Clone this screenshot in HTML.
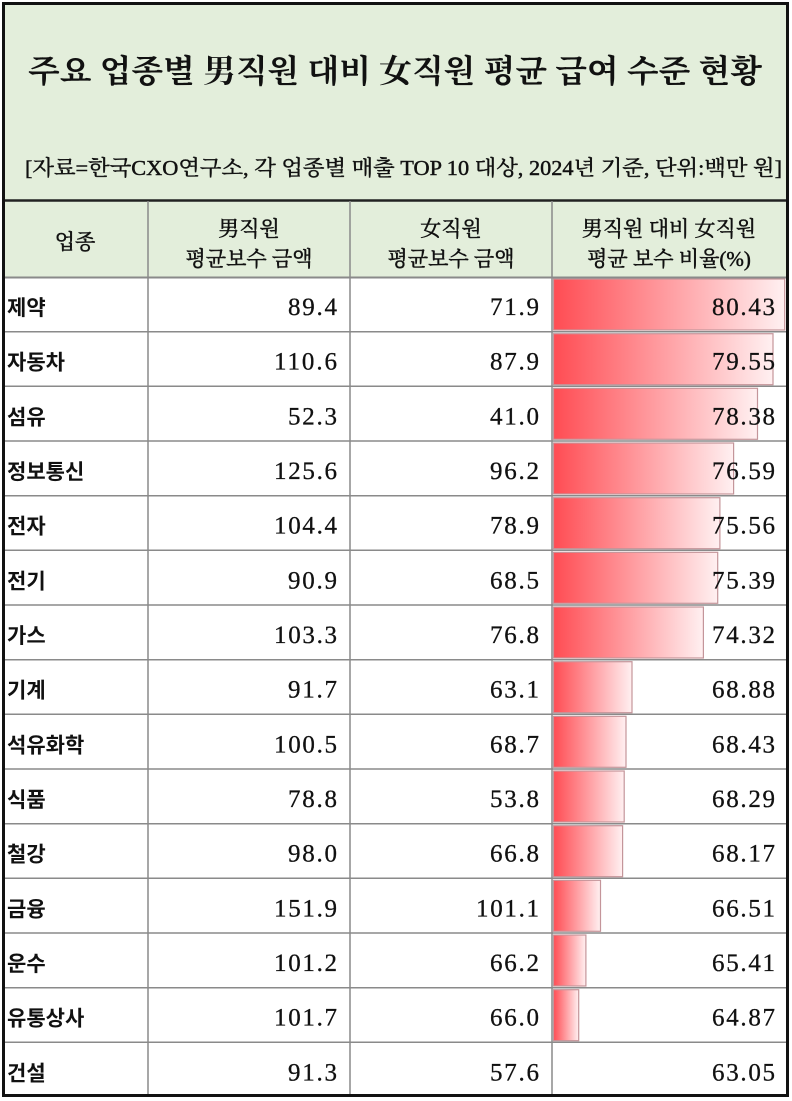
<!DOCTYPE html>
<html><head><meta charset="utf-8"><style>
html,body{margin:0;padding:0;background:#fff;}
svg{display:block;}
.t{font-family:"Liberation Serif","Noto Serif CJK SC","Noto Serif CJK KR",serif;}
.s{font-family:"Liberation Sans","Noto Sans CJK KR",sans-serif;}
</style></head><body>
<svg width="792" height="1101" viewBox="0 0 792 1101" xmlns="http://www.w3.org/2000/svg">
<defs>
<linearGradient id="g" x1="0" x2="1" y1="0" y2="0">
<stop offset="0" stop-color="#FF4C53"/>
<stop offset="1" stop-color="#FFF0F1"/>
</linearGradient>
</defs>
<rect x="0" y="0" width="792" height="1101" fill="#fff"/>
<rect x="3" y="3" width="785" height="274" fill="#E3EEDB"/>
<text class="t" x="28" y="82" font-size="32" font-weight="bold" textLength="734" lengthAdjust="spacingAndGlyphs" fill="#111">주요 업종별 男직원 대비 女직원 평균 급여 수준 현황</text>
<text class="t" x="25" y="175" font-size="21" textLength="757" lengthAdjust="spacingAndGlyphs" fill="#111" stroke="#111" stroke-width="0.45">[자료=한국CXO연구소, 각 업종별 매출 TOP 10 대상, 2024년 기준, 단위:백만 원]</text>
<line x1="3" y1="200.5" x2="788" y2="200.5" stroke="#222" stroke-width="2.5"/>
<g class="t" font-size="21" fill="#111" stroke="#111" stroke-width="0.5" text-anchor="middle">
<text x="75" y="249">업종</text>
<text x="249" y="236">男직원</text>
<text x="249" y="266">평균보수 금액</text>
<text x="451" y="236">女직원</text>
<text x="451" y="266">평균보수 금액</text>
<text x="669" y="236">男직원 대비 女직원</text>
<text x="669" y="266">평균 보수 비율(%)</text>
</g>
<g id="bars" stroke="#C4959A" stroke-width="1.2" fill="url(#g)">
<rect x="553.5" y="279" width="231.2" height="51" />
<rect x="553.5" y="333.7" width="219.5" height="51" />
<rect x="553.5" y="388.3" width="204" height="51" />
<rect x="553.5" y="443" width="180.1" height="51" />
<rect x="553.5" y="497.7" width="166.4" height="51" />
<rect x="553.5" y="552.3" width="164.2" height="51" />
<rect x="553.5" y="607" width="149.9" height="51" />
<rect x="553.5" y="661.7" width="78.5" height="51" />
<rect x="553.5" y="716.3" width="72.5" height="51" />
<rect x="553.5" y="771" width="70.7" height="51" />
<rect x="553.5" y="825.7" width="69.1" height="51" />
<rect x="553.5" y="880.3" width="47" height="51" />
<rect x="553.5" y="935" width="32.4" height="51" />
<rect x="553.5" y="989.7" width="25.2" height="51" />
</g>
<g stroke="#8a8a8a" stroke-width="1.5">
<line x1="3" y1="277.5" x2="788" y2="277.5" stroke-width="2"/>
<line x1="3" y1="331.7" x2="788" y2="331.7"/>
<line x1="3" y1="386.3" x2="788" y2="386.3"/>
<line x1="3" y1="441" x2="788" y2="441"/>
<line x1="3" y1="495.7" x2="788" y2="495.7"/>
<line x1="3" y1="550.3" x2="788" y2="550.3"/>
<line x1="3" y1="605" x2="788" y2="605"/>
<line x1="3" y1="659.7" x2="788" y2="659.7"/>
<line x1="3" y1="714.3" x2="788" y2="714.3"/>
<line x1="3" y1="769" x2="788" y2="769"/>
<line x1="3" y1="823.7" x2="788" y2="823.7"/>
<line x1="3" y1="878.3" x2="788" y2="878.3"/>
<line x1="3" y1="933" x2="788" y2="933"/>
<line x1="3" y1="987.7" x2="788" y2="987.7"/>
<line x1="3" y1="1042.3" x2="788" y2="1042.3"/>
<line x1="148" y1="201" x2="148" y2="1096"/>
<line x1="350" y1="201" x2="350" y2="1096"/>
<line x1="552" y1="201" x2="552" y2="1096"/>
</g>
<g class="s" font-size="21" font-weight="bold" fill="#111">
<text x="7" y="315">제약</text>
<text x="7" y="369.7">자동차</text>
<text x="7" y="424.3">섬유</text>
<text x="7" y="479">정보통신</text>
<text x="7" y="533.7">전자</text>
<text x="7" y="588.3">전기</text>
<text x="7" y="643">가스</text>
<text x="7" y="697.7">기계</text>
<text x="7" y="752.3">석유화학</text>
<text x="7" y="807">식품</text>
<text x="7" y="861.7">철강</text>
<text x="7" y="916.3">금융</text>
<text x="7" y="971">운수</text>
<text x="7" y="1025.7">유통상사</text>
<text x="7" y="1080.3">건설</text>
</g>
<g class="t" font-size="25" fill="#111" stroke="#111" stroke-width="0.3" text-anchor="end">
<text x="337" y="315" textLength="49">89.4</text>
<text x="337" y="369.7" textLength="63">110.6</text>
<text x="337" y="424.3" textLength="49">52.3</text>
<text x="337" y="479" textLength="63">125.6</text>
<text x="337" y="533.7" textLength="63">104.4</text>
<text x="337" y="588.3" textLength="49">90.9</text>
<text x="337" y="643" textLength="63">103.3</text>
<text x="337" y="697.7" textLength="49">91.7</text>
<text x="337" y="752.3" textLength="63">100.5</text>
<text x="337" y="807" textLength="49">78.8</text>
<text x="337" y="861.7" textLength="49">98.0</text>
<text x="337" y="916.3" textLength="63">151.9</text>
<text x="337" y="971" textLength="63">101.2</text>
<text x="337" y="1025.7" textLength="63">101.7</text>
<text x="337" y="1080.3" textLength="49">91.3</text>

<text x="539" y="315" textLength="49">71.9</text>
<text x="539" y="369.7" textLength="49">87.9</text>
<text x="539" y="424.3" textLength="49">41.0</text>
<text x="539" y="479" textLength="49">96.2</text>
<text x="539" y="533.7" textLength="49">78.9</text>
<text x="539" y="588.3" textLength="49">68.5</text>
<text x="539" y="643" textLength="49">76.8</text>
<text x="539" y="697.7" textLength="49">63.1</text>
<text x="539" y="752.3" textLength="49">68.7</text>
<text x="539" y="807" textLength="49">53.8</text>
<text x="539" y="861.7" textLength="49">66.8</text>
<text x="539" y="916.3" textLength="63">101.1</text>
<text x="539" y="971" textLength="49">66.2</text>
<text x="539" y="1025.7" textLength="49">66.0</text>
<text x="539" y="1080.3" textLength="49">57.6</text>

<text x="775" y="315" textLength="63">80.43</text>
<text x="775" y="369.7" textLength="63">79.55</text>
<text x="775" y="424.3" textLength="63">78.38</text>
<text x="775" y="479" textLength="63">76.59</text>
<text x="775" y="533.7" textLength="63">75.56</text>
<text x="775" y="588.3" textLength="63">75.39</text>
<text x="775" y="643" textLength="63">74.32</text>
<text x="775" y="697.7" textLength="63">68.88</text>
<text x="775" y="752.3" textLength="63">68.43</text>
<text x="775" y="807" textLength="63">68.29</text>
<text x="775" y="861.7" textLength="63">68.17</text>
<text x="775" y="916.3" textLength="63">66.51</text>
<text x="775" y="971" textLength="63">65.41</text>
<text x="775" y="1025.7" textLength="63">64.87</text>
<text x="775" y="1080.3" textLength="63">63.05</text>
</g>
<rect x="3.5" y="3.5" width="784" height="1092" fill="none" stroke="#111" stroke-width="3"/>
</svg>
</body></html>
